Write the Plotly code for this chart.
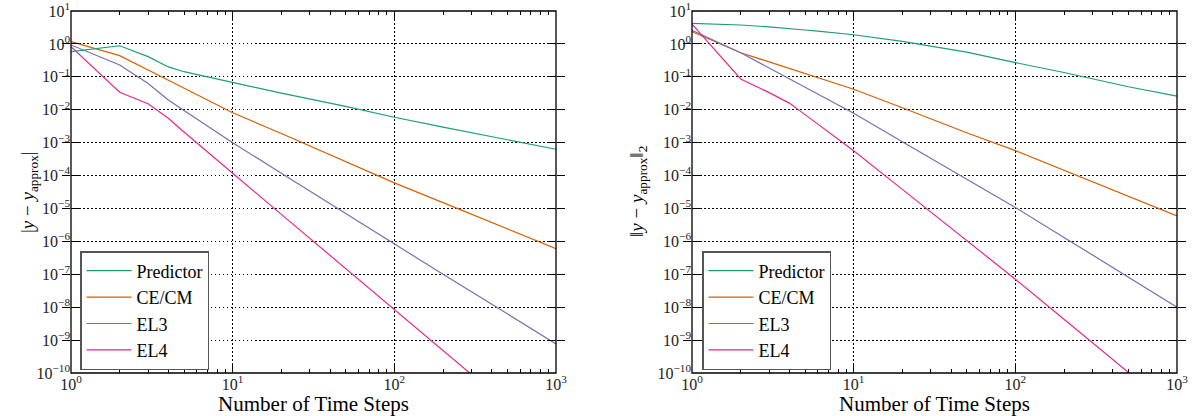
import plotly.graph_objects as go

# Number of time steps at which each error was recorded
steps = [1, 2, 3, 4, 5, 6, 8, 10, 20, 50, 100, 200, 500, 1000]

# Absolute error |y - y_approx|
abs_predictor = [0.58, 0.88, 0.41, 0.20, 0.143, 0.117, 0.087, 0.066, 0.032, 0.0126,
                 5.9e-3, 2.95e-3, 1.2e-3, 6.3e-4]
abs_cecm = [1.17, 0.44, 0.162, 0.080, 0.047, 0.030, 0.0148, 8.1e-3, 1.9e-3, 2.6e-4,
            6.0e-5, 1.5e-5, 2.4e-6, 6.0e-7]
abs_el3 = [0.93, 0.23, 0.063, 0.0197, 9.5e-3, 5.2e-3, 2.0e-3, 1.0e-3, 1.17e-4, 6.9e-6,
           8.1e-7, 1.0e-7, 6.3e-9, 7.6e-10]
abs_el4 = [0.82, 0.034, 0.0152, 5.5e-3, 2.1e-3, 1.0e-3, 3.0e-4, 1.17e-4, 6.6e-6, 1.45e-7,
           8.1e-9, 4.7e-10, 1.07e-11, 6.2e-13]

# 2-norm error ||y - y_approx||_2
l2_predictor = [4.2, 3.75, 3.3, 3.0, 2.65, 2.45, 2.15, 1.9, 1.2, 0.56,
                0.27, 0.135, 0.05, 0.026]
l2_cecm = [2.35, 0.54, 0.284, 0.18, 0.126, 0.093, 0.060, 0.042, 0.0115, 2.0e-3,
           5.7e-4, 1.45e-4, 2.3e-5, 5.9e-6]
l2_el3 = [2.6, 0.54, 0.186, 0.087, 0.049, 0.030, 0.0141, 7.8e-3, 1.07e-3, 7.8e-5,
          1.07e-5, 1.32e-6, 8.3e-8, 1.0e-8]
l2_el4 = [4.0, 0.086, 0.033, 0.0159, 7.1e-3, 3.6e-3, 1.29e-3, 5.7e-4, 3.8e-5, 1.07e-6,
          7.1e-8, 4.3e-9, 1.05e-10, 6.3e-12]

methods = ["Predictor", "CE/CM", "EL3", "EL4"]
colors = ["#1b9e77", "#d95f02", "#7570b3", "#e7298a"]

x_exponents = [0, 1, 2, 3]
y_exponents = list(range(-10, 2))
minor_steps = [m * 10 ** p for p in range(3) for m in range(2, 10)]


def power_label(p):
    sign = "\u2212" if p < 0 else ""
    return f"10<sup>{sign}{abs(p)}</sup>"


FONT = "Liberation Serif"

fig = go.Figure()

# the Predictor curve of each panel is plotted against the top-edge x axis
# (same log scale as the bottom one) so that axis gets its tick marks drawn
panels = [
    (("x3", "x", "x", "x"), "y", "legend", [abs_predictor, abs_cecm, abs_el3, abs_el4]),
    (("x4", "x2", "x2", "x2"), "y2", "legend2", [l2_predictor, l2_cecm, l2_el3, l2_el4]),
]
for xas, ya, leg, series in panels:
    for xa, name, color, vals in zip(xas, methods, colors, series):
        fig.add_trace(go.Scatter(
            x=steps, y=vals, mode="lines", name=name,
            line=dict(color=color, width=1.2),
            xaxis=xa, yaxis=ya, legend=leg,
        ))

tick_common = dict(
    type="log", ticks="inside", ticklen=8, tickwidth=1, tickcolor="black",
    zeroline=False, automargin=False, ticklabeloverflow="allow",
    tickfont=dict(family=FONT, size=16, color="#222"),
)
axis_common = dict(
    tick_common,
    showline=False,
    showgrid=True, gridcolor="black", griddash="1.5px,2.5px", gridwidth=1,
)

x_ticks = dict(
    range=[0, 3],
    tickvals=[10 ** p for p in x_exponents],
    ticktext=[power_label(p) for p in x_exponents],
    minor=dict(ticks="inside", ticklen=4, tickcolor="black", showgrid=False,
               tickmode="array", tickvals=minor_steps),
)
xaxis_style = dict(
    axis_common, **x_ticks,
    title=dict(text="Number of Time Steps", font=dict(family=FONT, size=21, color="black"),
               standoff=3),
)
xaxis_top = dict(tick_common, **x_ticks, side="top", showticklabels=False,
                 showgrid=False, showline=False)
yaxis_style = dict(
    axis_common, mirror="allticks",
    range=[-10, 1],
    tickvals=[10 ** p for p in y_exponents],
    ticktext=[power_label(p) for p in y_exponents],
)

legend_style = dict(
    xanchor="left", yanchor="top", y=(416 - 251) / 416,
    bordercolor="#555", borderwidth=1.5, bgcolor="white", itemwidth=45,
    entrywidth=88, entrywidthmode="pixels",
    font=dict(family=FONT, size=18, color="black"), tracegroupgap=0,
)

# panel frames
frames = [
    dict(type="rect", xref=f"{xr} domain", yref=f"{yr} domain", x0=0, x1=1, y0=0, y1=1,
         line=dict(color="black", width=1.3), layer="above")
    for xr, yr in (("x", "y"), ("x2", "y2"))
]

dom_y = [43 / 416, 405 / 416]
dom_x1 = [71 / 1195, 556 / 1195]
dom_x2 = [692 / 1195, 1177 / 1195]
fig.update_layout(
    width=1195, height=416,
    margin=dict(l=0, r=0, t=0, b=0),
    paper_bgcolor="white", plot_bgcolor="white",
    font=dict(family=FONT, color="black"),
    xaxis=dict(xaxis_style, domain=dom_x1, anchor="y"),
    yaxis=dict(yaxis_style, domain=dom_y, anchor="x"),
    xaxis2=dict(xaxis_style, domain=dom_x2, anchor="y2"),
    yaxis2=dict(yaxis_style, domain=dom_y, anchor="x2"),
    xaxis3=dict(xaxis_top, domain=dom_x1, anchor="y", overlaying="x"),
    xaxis4=dict(xaxis_top, domain=dom_x2, anchor="y2", overlaying="x2"),
    legend=dict(legend_style, x=80 / 1195),
    legend2=dict(legend_style, x=702 / 1195),
    shapes=frames,
    annotations=[
        dict(text="|<i>y</i> \u2212 <i>y</i><sub>approx</sub>|", xref="paper", yref="paper",
             x=15 / 1195, y=0.5 * (dom_y[0] + dom_y[1]), textangle=-90, showarrow=False,
             font=dict(family=FONT, size=19, color="black")),
        dict(text="\u2016<i>y</i> \u2212 <i>y</i><sub>approx</sub>\u2016<sub>2</sub>",
             xref="paper", yref="paper",
             x=638 / 1195, y=0.5 * (dom_y[0] + dom_y[1]), textangle=-90, showarrow=False,
             font=dict(family=FONT, size=19, color="black")),
    ],
)

fig.write_html("out.html")
